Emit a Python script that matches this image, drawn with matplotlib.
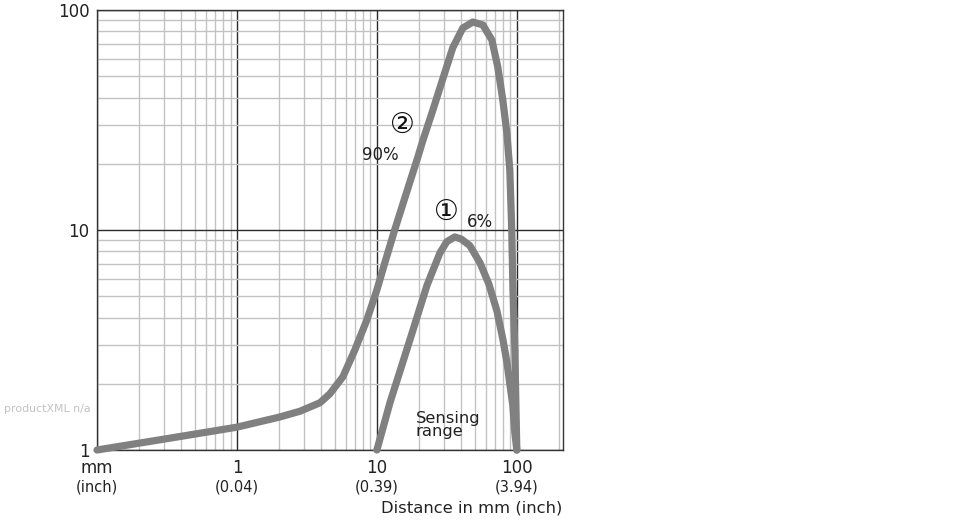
import matplotlib.pyplot as plt
from matplotlib.ticker import LogLocator, NullFormatter
import matplotlib.transforms as mtransforms

plt.rcParams["font.family"] = ["DejaVu Sans", "Noto Sans CJK SC"]

# curve 2 (90 % remission)
dist_2 = [0.1, 0.3, 1.0, 2.0, 2.82, 3.92, 4.61, 5.71, 6.96, 8.48, 10, 11.4, 13.4,
          17.2, 19.6, 21.3, 25.1, 29.6, 34.9, 41.1, 48.5, 57.2, 66.3, 73.1, 79.4,
          84.9, 89.1, 92, 93.6, 96.8, 98.5, 100]
gain_2 = [1.0, 1.12, 1.27, 1.41, 1.5, 1.64, 1.8, 2.15, 2.85, 3.9, 5.34, 7.1, 10,
          16.5, 21.4, 25.5, 35, 48.7, 67.5, 82.8, 88.2, 85.5, 73.1, 55.1, 39,
          27.6, 18.7, 10, 5.74, 2.85, 1.6, 1.0]

# curve 1 (6 % remission)
dist_1 = [10, 12.4, 17.2, 22.8, 28.2, 31.6, 36, 40, 46.1, 54.5, 63, 72, 79.4,
          85, 89.1, 93.6, 96.8, 100]
gain_1 = [1.0, 1.64, 3.16, 5.6, 7.86, 8.85, 9.3, 9.1, 8.5, 7.1, 5.7, 4.3, 3.2,
          2.5, 2.0, 1.6, 1.2, 1.0]

x_ticks = [0.1, 1, 10, 100]
x_labels = ["mm", "1", "10", "100"]
x_inch = ["(inch)", "(0.04)", "(0.39)", "(3.94)"]
y_ticks = [1, 10, 100]
y_labels = ["1", "10", "100"]

fig = plt.figure(figsize=(9.7, 5.2), dpi=100)
ax = fig.add_axes([97 / 970, 70 / 520, 466 / 970, 440 / 520])
ax.set_xscale("log")
ax.set_yscale("log")
ax.set_xlim(0.1, 10 ** 2.33)
ax.set_ylim(1, 100)

ax.xaxis.set_minor_locator(LogLocator(base=10, subs=range(2, 10), numticks=20))
ax.yaxis.set_minor_locator(LogLocator(base=10, subs=range(2, 10), numticks=20))
ax.xaxis.set_minor_formatter(NullFormatter())
ax.yaxis.set_minor_formatter(NullFormatter())
ax.grid(which="minor", color="#c2c2c2", lw=1.0)
ax.grid(which="major", color="#2a2a2a", lw=1.0)
ax.set_axisbelow(True)
for s in ax.spines.values():
    s.set_color("#333333")
    s.set_linewidth(1.0)

ax.set_xticks(x_ticks)
ax.set_xticklabels(x_labels, fontsize=12, color="#222222")
ax.set_yticks(y_ticks)
ax.set_yticklabels(y_labels, fontsize=12, color="#222222")
ax.tick_params(which="both", length=0)
ax.tick_params(axis="x", pad=6.5)
ax.tick_params(axis="y", pad=5.5)

trans = mtransforms.blended_transform_factory(ax.transData, ax.transAxes)
for xv, lab in zip(x_ticks, x_inch):
    ax.text(xv, -0.068, lab, transform=trans, ha="center", va="top",
            fontsize=10.5, color="#222222")

ax.text(0.998, -0.143, "Distance in mm (inch)", transform=ax.transAxes,
        ha="right", va="baseline", fontsize=11.8, color="#222222")

ax.plot(dist_2, gain_2, color="#808080", lw=5.2, solid_capstyle="round",
        solid_joinstyle="round", clip_on=False, zorder=3)
ax.plot(dist_1, gain_1, color="#808080", lw=5.2, solid_capstyle="round",
        solid_joinstyle="round", clip_on=False, zorder=3)

ax.text(15.3, 30, "②", fontsize=20, ha="center", va="center", color="#111111")
ax.text(10.5, 21.9, "90%", fontsize=12, ha="center", va="center", color="#222222")
ax.text(31.4, 12.1, "①", fontsize=20, ha="center", va="center", color="#111111")
ax.text(54.4, 10.9, "6%", fontsize=12, ha="center", va="center", color="#222222")
ax.text(19, 1.3, "Sensing\nrange", fontsize=11.8, ha="left", va="center",
        color="#222222", linespacing=0.9)

fig.text(4 / 970, 1 - 409 / 520, "productXML n/a", fontsize=7.9, color="#c2c2c2",
         ha="left", va="center")

fig.savefig("out.png", dpi=100)
